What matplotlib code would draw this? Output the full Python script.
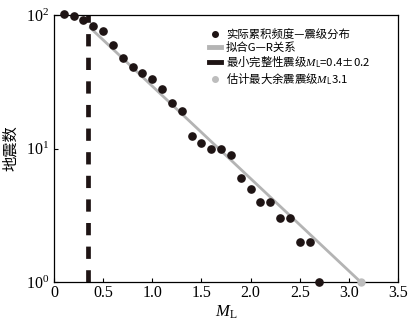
import matplotlib
matplotlib.use("Agg")
import matplotlib.pyplot as plt
from matplotlib.lines import Line2D

plt.rcParams["font.family"] = ["Liberation Serif", "Noto Sans CJK SC"]
plt.rcParams["mathtext.fontset"] = "custom"
plt.rcParams["mathtext.rm"] = "Liberation Serif"
plt.rcParams["mathtext.it"] = "Liberation Serif:italic"
plt.rcParams["mathtext.default"] = "it"

# observed cumulative frequency-magnitude distribution
mag = [0.1, 0.2, 0.3, 0.4, 0.5, 0.6, 0.7, 0.8, 0.9, 1.0, 1.1, 1.2, 1.3, 1.4,
       1.5, 1.6, 1.7, 1.8, 1.9, 2.0, 2.1, 2.2, 2.3, 2.4, 2.5, 2.6, 2.7]
count = [101, 99, 92, 83, 76, 60, 48, 41, 37, 33, 28, 22, 19, 12.5,
         11, 10, 10, 9, 6, 5, 4, 4, 3, 3, 2, 2, 1]

# fitted G-R relation endpoints
fit_mag = [0.37, 3.12]
fit_count = [80, 1]

# magnitude of completeness and estimated max aftershock
mc = 0.35
max_mag = 3.12
max_count = 1

labels = ["实际累积频度—震级分布", "拟合G—R关系",
          "最小完整性震级$M_{\\mathregular{L}}$=0.4±0.2",
          "估计最大余震震级$M_{\\mathregular{L}}$3.1"]

fig = plt.figure(figsize=(4.17, 3.21), dpi=100)
ax = fig.add_axes([54 / 417, 1 - 282 / 321, 344 / 417, 267 / 321])

ax.plot(fit_mag, fit_count, color="#b4b4b4", lw=2, zorder=2)
ax.plot([mc, mc], [1, 100], color="#1e1414", lw=3.4, dashes=(2.6, 2.4), zorder=2)
ax.plot(mag, count, "o", color="#1e1414", ms=5.2, clip_on=False, zorder=3)
ax.plot([max_mag], [max_count], "o", color="#bdbdbd", ms=5, clip_on=False, zorder=4)

ax.set_yscale("log")
ax.set_xlim(0, 3.5)
ax.set_ylim(1, 100)
ax.set_xticks([0, 0.5, 1.0, 1.5, 2.0, 2.5, 3.0, 3.5])
ax.set_xticklabels(["0", "0.5", "1.0", "1.5", "2.0", "2.5", "3.0", "3.5"])
ax.minorticks_off()
ax.tick_params(direction="in", length=3, labelsize=11.5, width=0.8)
ax.tick_params(axis="x", pad=2)
for s in ax.spines.values():
    s.set_linewidth(0.9)

ax.set_xlabel("$M_{\\mathregular{L}}$", fontsize=12, labelpad=2)
ax.set_ylabel("地震数", fontsize=11, labelpad=6)

handles = [
    Line2D([], [], ls="none", marker="o", color="#1e1414", ms=4),
    Line2D([], [], color="#b4b4b4", lw=3.5),
    Line2D([], [], color="#1e1414", lw=3.5),
    Line2D([], [], ls="none", marker="o", color="#bdbdbd", ms=4),
]
fig.legend(handles, labels, loc="upper left", bbox_to_anchor=(203 / 417, 1 - 23 / 321),
           frameon=False, prop={"family": "Noto Sans CJK SC", "size": 8.2},
           handlelength=1.1, handletextpad=0.4, labelspacing=0.15, borderpad=0)

fig.savefig("out.png", dpi=100)
